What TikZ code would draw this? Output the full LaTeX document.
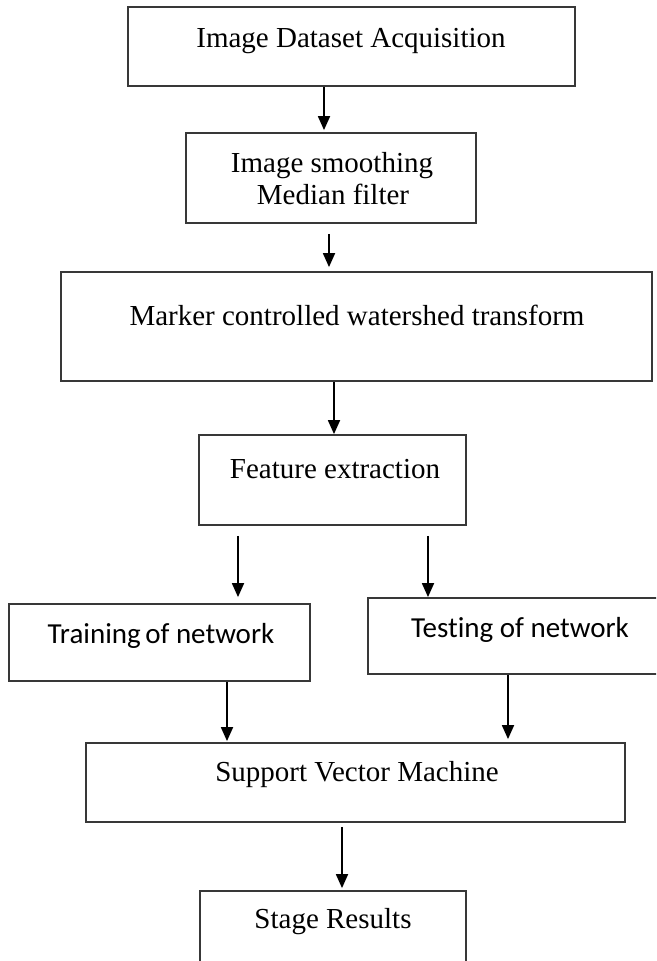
\documentclass[tikz,border=0pt]{standalone}
\usepackage{fontspec}
\setmainfont{Liberation Serif}
\newfontfamily\carlitofont[Ligatures={NoCommon}]{Carlito}
\usetikzlibrary{arrows.meta}
\begin{document}
\begin{tikzpicture}[x=1pt,y=-1pt,
  box/.style={draw=black!78, line width=1.8pt, rectangle, inner sep=0pt},
  txt/.style={anchor=base, inner sep=0pt, font=\fontsize{29}{32}\selectfont},
  ctxt/.style={anchor=base, inner sep=0pt, font=\carlitofont\fontsize{29}{32}\selectfont},
  arr/.style={draw=black, line width=1.8pt, -{Triangle[length=14pt,width=12pt]}}]
\useasboundingbox (0,0) rectangle (656,961);
\clip (0,0) rectangle (656,961);
% boxes
\node[box, minimum width=447pt, minimum height=79pt] (b1) at (351.5,46.5) {};
\node[box, minimum width=290pt, minimum height=90pt] (b2) at (331,178) {};
\node[box, minimum width=591pt, minimum height=109pt] (b3) at (356.5,326.5) {};
\node[box, minimum width=267pt, minimum height=90pt] (b4) at (332.5,480) {};
\node[box, minimum width=301pt, minimum height=77pt] (b5) at (159.5,642.5) {};
\node[box, minimum width=312pt, minimum height=76pt] (b6) at (524,636) {};
\node[box, minimum width=539pt, minimum height=79pt] (b7) at (355.5,782.5) {};
\node[box, minimum width=266pt, minimum height=99pt] (b8) at (333,940.5) {};
% texts
\node[txt] (t1) at (351,47) {Image Dataset Acquisition};
\node[txt] (t2a) at (332,172) {Image smoothing};
\node[txt] (t2b) at (333,204) {Median filter};
\node[txt] (t3) at (357,325) {Marker controlled watershed transform};
\node[txt] (t4) at (335,478) {Feature extraction};
\node[ctxt] (t5) at (161,643) {Training\hspace{-2pt} of network};
\node[ctxt] (t6) at (520,637) {Testing of network};
\node[txt] (t7) at (357,781) {Support Vector Machine};
\node[txt] (t8) at (333,928) {Stage Results};
% arrows
\draw[arr, shorten >=2pt] ([xshift=-27.5pt]b1.south) -- ([xshift=-7pt]b2.north);
\draw[arr, shorten <=10pt, shorten >=4pt] ([xshift=-2pt]b2.south) -- ([xshift=-27.5pt]b3.north);
\draw[arr] ([xshift=-22.5pt]b3.south) -- ([xshift=1.5pt]b4.north);
\draw[arr, shorten <=10pt, shorten >=6pt] ([xshift=-94.5pt]b4.south) -- ([xshift=78.5pt]b5.north);
\draw[arr, shorten <=10pt] ([xshift=95.5pt]b4.south) -- ([xshift=-96pt]b6.north);
\draw[arr, shorten >=1pt] ([xshift=67.5pt]b5.south) -- ([xshift=-128.5pt]b7.north);
\draw[arr, shorten >=3pt] ([xshift=-16pt]b6.south) -- ([xshift=152.5pt]b7.north);
\draw[arr, shorten <=4pt, shorten >=2pt] ([xshift=-13.5pt]b7.south) -- ([xshift=9pt]b8.north);
\end{tikzpicture}
\end{document}
